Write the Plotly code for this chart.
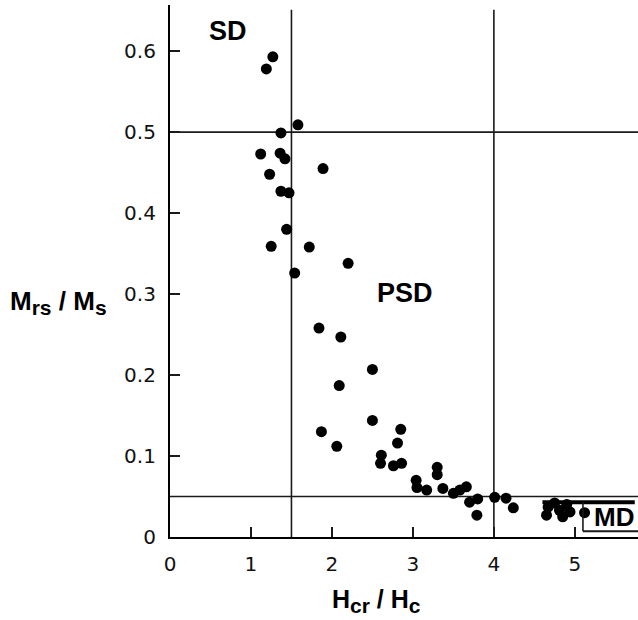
import plotly.graph_objects as go

# Data
h_ratio = [1.27, 1.19, 1.58, 1.37, 1.12, 1.36, 1.42, 1.89, 1.23, 1.37, 1.47, 1.44, 1.25, 1.72,
           2.20, 1.54, 1.84, 2.11, 2.50, 2.09, 2.50, 1.87, 2.06, 2.85, 2.81, 2.61, 2.60, 2.76,
           2.86, 3.30, 3.30, 3.04, 3.05, 3.17, 3.37, 3.50, 3.58, 3.66, 3.70, 3.80, 3.79, 4.01,
           4.15, 4.24, 4.65, 4.67, 4.75, 4.81, 4.90, 4.94, 4.85, 5.12]
m_ratio = [0.593, 0.578, 0.509, 0.499, 0.473, 0.474, 0.467, 0.455, 0.448, 0.427, 0.425, 0.380,
           0.359, 0.358, 0.338, 0.326, 0.258, 0.247, 0.207, 0.187, 0.144, 0.130, 0.112, 0.133,
           0.116, 0.101, 0.091, 0.088, 0.091, 0.086, 0.077, 0.070, 0.061, 0.058, 0.060, 0.054,
           0.058, 0.062, 0.043, 0.047, 0.027, 0.049, 0.048, 0.036, 0.027, 0.037, 0.042, 0.033,
           0.040, 0.031, 0.025, 0.030]

x_ticks = [0, 1, 2, 3, 4, 5]
x_tick_labels = ["0", "1", "2", "3", "4", "5"]
y_ticks = [0, 0.1, 0.2, 0.3, 0.4, 0.5, 0.6]
y_tick_labels = ["0", "0.1", "0.2", "0.3", "0.4", "0.5", "0.6"]

v_lines = [1.5, 4.0]          # H_cr/H_c boundaries
h_lines = [0.5, 0.05]         # M_rs/M_s boundaries
region_labels = ["SD", "PSD", "MD"]
region_x = [0.47, 2.55, 5.23]
region_y = [0.625, 0.301, 0.025]
region_size = [27, 27, 26]

X_MAX = 5.78
Y_MAX = 0.657

fig = go.Figure()
fig.add_trace(go.Scatter(
    x=h_ratio, y=m_ratio, mode="markers",
    marker=dict(color="black", size=11, line=dict(width=0)),
    cliponaxis=False, showlegend=False,
))

line_col = "#1a1a1a"
for xv in v_lines:
    fig.add_shape(type="line", x0=xv, x1=xv, y0=0, y1=Y_MAX - 0.006,
                  line=dict(color=line_col, width=1.6), layer="below")
for yv in h_lines:
    fig.add_shape(type="line", x0=0, x1=X_MAX, y0=yv, y1=yv,
                  line=dict(color=line_col, width=1.6), layer="below")
# MD box decoration
fig.add_shape(type="line", x0=4.6, x1=5.74, y0=0.043, y1=0.043,
              line=dict(color="black", width=4))
fig.add_shape(type="line", x0=5.1, x1=5.1, y0=0.007, y1=0.043,
              line=dict(color=line_col, width=1.6))
fig.add_shape(type="line", x0=5.1, x1=X_MAX, y0=0.007, y1=0.007,
              line=dict(color=line_col, width=2))

for t, xx, yy, fs in zip(region_labels, region_x, region_y, region_size):
    fig.add_annotation(x=xx, y=yy, text=f"<b>{t}</b>", showarrow=False,
                       xanchor="left", yanchor="middle", borderpad=0,
                       font=dict(family="Liberation Sans, Arial", size=fs, color="black"))

sub = lambda s: f"<sub><span style='font-size:21px'>{s}</span></sub>"
fig.add_annotation(xref="paper", yref="paper", x=-0.347, y=0.44,
                   text=f"<b>M{sub('rs')} / M{sub('s')}</b>", showarrow=False,
                   xanchor="left", yanchor="middle",
                   font=dict(family="Liberation Sans, Arial", size=26, color="black"))
fig.add_annotation(xref="paper", yref="paper", x=0.442, y=-0.12,
                   text=f"<b>H{sub('cr')} / H{sub('c')}</b>", showarrow=False,
                   xanchor="center", yanchor="middle",
                   font=dict(family="Liberation Sans, Arial", size=25, color="black"))

tick_font = dict(family="DejaVu Sans", size=20, color="#111")
fig.update_xaxes(range=[0, X_MAX], tickvals=x_ticks, ticktext=x_tick_labels,
                 showgrid=False, zeroline=False, showline=True, linecolor="black",
                 linewidth=2.2, ticks="inside", ticklen=10, tickwidth=1.6,
                 tickcolor=line_col, tickfont=tick_font, ticklabelstandoff=8,
                 automargin=False)
fig.update_yaxes(range=[0, Y_MAX], tickvals=y_ticks, ticktext=y_tick_labels,
                 showgrid=False, zeroline=False, showline=True, linecolor="black",
                 linewidth=2.2, ticks="inside", ticklen=10, tickwidth=1.6,
                 tickcolor=line_col, tickfont=tick_font, ticklabelstandoff=8,
                 automargin=False)

fig.update_layout(width=638, height=620, margin=dict(l=170, r=0, t=5, b=83),
                  plot_bgcolor="white", paper_bgcolor="white")
fig.write_html("out.html", config={"displayModeBar": False},
               post_script="document.body.style.margin='0';")
